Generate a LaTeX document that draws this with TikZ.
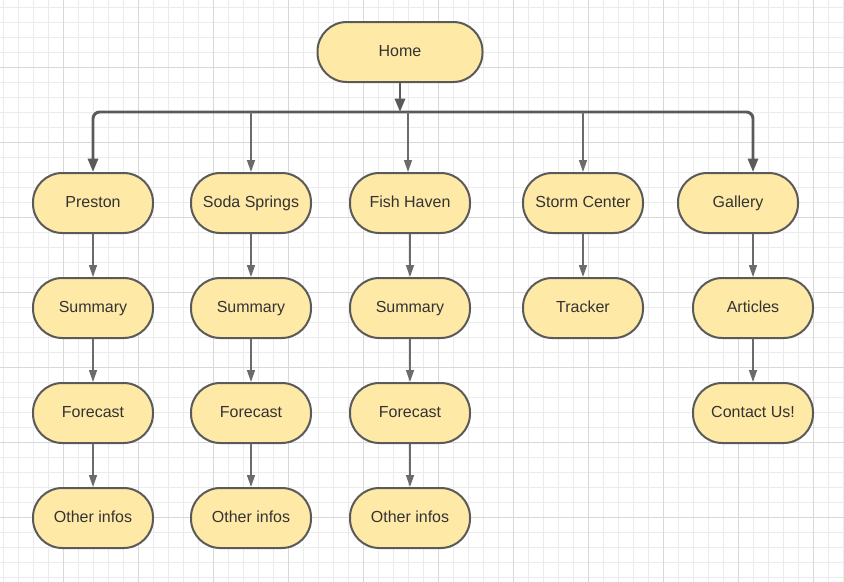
\documentclass[tikz,border=0pt]{standalone}
\usepackage{fontspec}
\setmainfont{Liberation Sans}
\usetikzlibrary{arrows.meta,positioning}
\definecolor{pill}{HTML}{FFE9A6}
\definecolor{rim}{HTML}{5A5A5A}
\definecolor{ink}{HTML}{333333}
\definecolor{gridlo}{HTML}{EBEBEB}
\definecolor{gridhi}{HTML}{D8D8D8}

\begin{document}
\begin{tikzpicture}[
  x=0.75pt,y=-0.75pt,
  font=\fontsize{12}{14}\selectfont,
  box/.style={draw=rim,fill=pill,line width=1.5pt,rounded corners=22pt,
    minimum width=90pt,minimum height=45pt,text=ink,inner sep=0pt,
    text height=8.6pt,text depth=2.4pt},
  ar/.style={draw=rim!90,line width=1.1pt,-{Triangle[length=9pt,width=6pt]}},
  bigar/.style={draw=rim,line width=2.2pt,-{Triangle[length=10pt,width=7.5pt]}},
  minor/.style={draw=gridlo,line width=0.75pt},
  major/.style={draw=gridhi,line width=0.75pt}
]
\useasboundingbox (0,0) rectangle (844,582);

% background grid
\foreach \i in {0,...,56} \draw[minor] ({3.3+15*\i},0) -- ({3.3+15*\i},582);
\foreach \i in {0,...,38} \draw[minor] (0,{7.3+15*\i}) -- (844,{7.3+15*\i});
\foreach \i in {0,...,10} \draw[major] ({63.3+75*\i},0) -- ({63.3+75*\i},582);
\foreach \i in {0,...,7} \draw[major] (0,{67.3+75*\i}) -- (844,{67.3+75*\i});

\node[box,minimum width=123.75pt] (home) at (400,52) {Home};

\node[box] (preston) at (93,203)  {Preston};
\node[box] (soda)    at (251,203) {Soda Springs};
\node[box] (fish)    at (410,203) {Fish Haven};
\node[box] (storm)   at (583,203) {Storm Center};
\node[box] (gallery) at (738,203) {Gallery};

\node[box] (sum1) at (93,308)  {Summary};
\node[box] (sum2) at (251,308) {Summary};
\node[box] (sum3) at (410,308) {Summary};
\node[box] (tracker)  at (583,308) {Tracker};
\node[box] (articles) at (753,308) {Articles};

\node[box] (fc1) at (93,413)  {Forecast};
\node[box] (fc2) at (251,413) {Forecast};
\node[box] (fc3) at (410,413) {Forecast};
\node[box] (contact) at (753,413) {Contact Us!};

\node[box] (oi1) at (93,518)  {Other infos};
\node[box] (oi2) at (251,518) {Other infos};
\node[box] (oi3) at (410,518) {Other infos};

% bus from home
\coordinate (bus) at (400,112);
\coordinate (fishin) at (408,112);
\draw[bigar] (home) -- (bus);
\draw[bigar,rounded corners=5pt] (bus) -| (preston);
\draw[bigar,rounded corners=5pt] (bus) -| (articles |- gallery.north);
\draw[ar] (soda |- bus) -- (soda);
\draw[ar] (fishin) -- (fishin |- fish.north);
\draw[ar] (storm |- bus) -- (storm);

% columns
\draw[ar] (preston) -- (sum1);
\draw[ar] (sum1) -- (fc1);
\draw[ar] (fc1) -- (oi1);
\draw[ar] (soda) -- (sum2);
\draw[ar] (sum2) -- (fc2);
\draw[ar] (fc2) -- (oi2);
\draw[ar] (fish) -- (sum3);
\draw[ar] (sum3) -- (fc3);
\draw[ar] (fc3) -- (oi3);
\draw[ar] (storm) -- (tracker);
\draw[ar] (articles |- gallery.south) -- (articles);
\draw[ar] (articles) -- (contact);
\end{tikzpicture}
\end{document}
